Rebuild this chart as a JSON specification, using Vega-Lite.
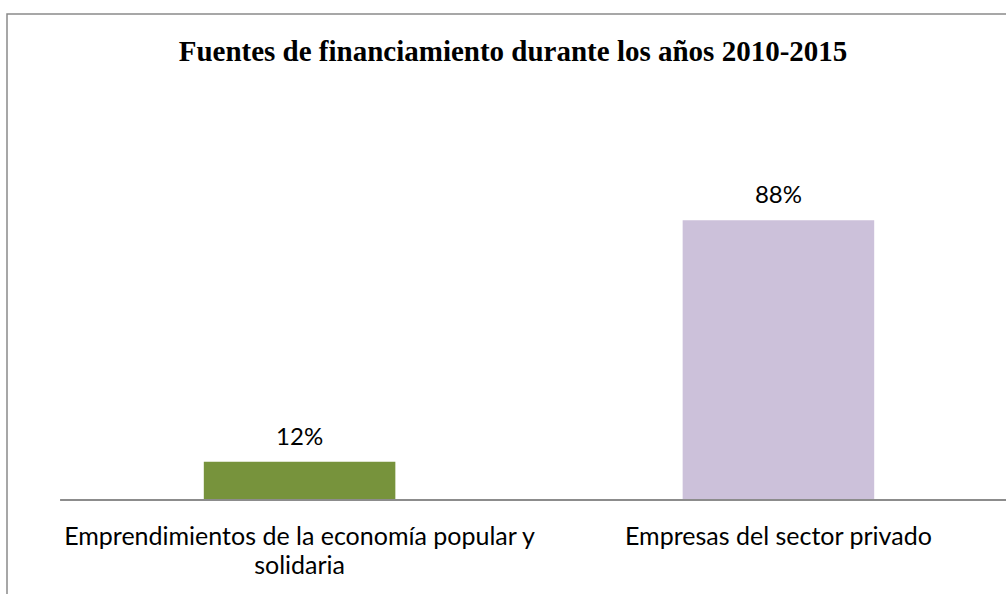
{
  "$schema": "https://vega.github.io/schema/vega-lite/v6.json",
  "width": 1064,
  "height": 600,
  "autosize": "none",
  "padding": {"left": 7, "top": 14, "right": 0, "bottom": 0},
  "background": "white",
  "config": {"view": {"stroke": "#8a8a8a", "strokeWidth": 1.5}},
  "title": {
    "text": "Fuentes de financiamiento durante los años 2010-2015",
    "font": "Liberation Serif",
    "fontSize": 29,
    "fontWeight": "bold",
    "color": "#000000",
    "anchor": "middle",
    "frame": "group",
    "dx": -26,
    "dy": 27,
    "offset": -49,
    "baseline": "alphabetic"
  },
  "data": {
    "values": [
      {"categoria": "Emprendimientos de la economía popular y solidaria", "porcentaje": 0.12},
      {"categoria": "Empresas del sector privado", "porcentaje": 0.88}
    ]
  },
  "layer": [
    {
      "mark": {"type": "bar"},
      "encoding": {
        "x": {
          "field": "categoria",
          "type": "nominal",
          "sort": null,
          "scale": {"paddingInner": 0.6, "paddingOuter": 0.411},
          "axis": {
            "title": null,
            "offset": -114,
            "domain": false,
            "ticks": false,
            "tickSize": 0,
            "labelAngle": 0,
            "labelPadding": 24,
            "labelFont": "Lato",
            "labelFontSize": 25,
            "labelColor": "#000000",
            "labelLimit": 1000,
            "labelLineHeight": 29,
            "labelExpr": "datum.value == 'Emprendimientos de la economía popular y solidaria' ? ['Emprendimientos de la economía popular y', 'solidaria'] : datum.value"
          }
        },
        "y": {
          "field": "porcentaje",
          "type": "quantitative",
          "scale": {"domain": [-0.3585, 1.5283], "nice": false, "zero": false},
          "axis": null
        },
        "color": {
          "field": "categoria",
          "type": "nominal",
          "scale": {
            "domain": ["Emprendimientos de la economía popular y solidaria", "Empresas del sector privado"],
            "range": ["#77933C", "#CCC1DA"]
          },
          "legend": null
        }
      }
    },
    {
      "mark": {"type": "tick", "color": "#8c8c8c", "thickness": 2, "size": 479, "opacity": 1},
      "encoding": {
        "x": {"field": "categoria", "type": "nominal", "sort": null},
        "y": {"datum": 0, "type": "quantitative"}
      }
    },
    {
      "mark": {"type": "text", "font": "Lato", "fontSize": 24, "color": "#000000", "baseline": "alphabetic", "dy": -17},
      "encoding": {
        "x": {"field": "categoria", "type": "nominal", "sort": null},
        "y": {"field": "porcentaje", "type": "quantitative"},
        "text": {"field": "porcentaje", "type": "quantitative", "format": ".0%"}
      }
    }
  ]
}
